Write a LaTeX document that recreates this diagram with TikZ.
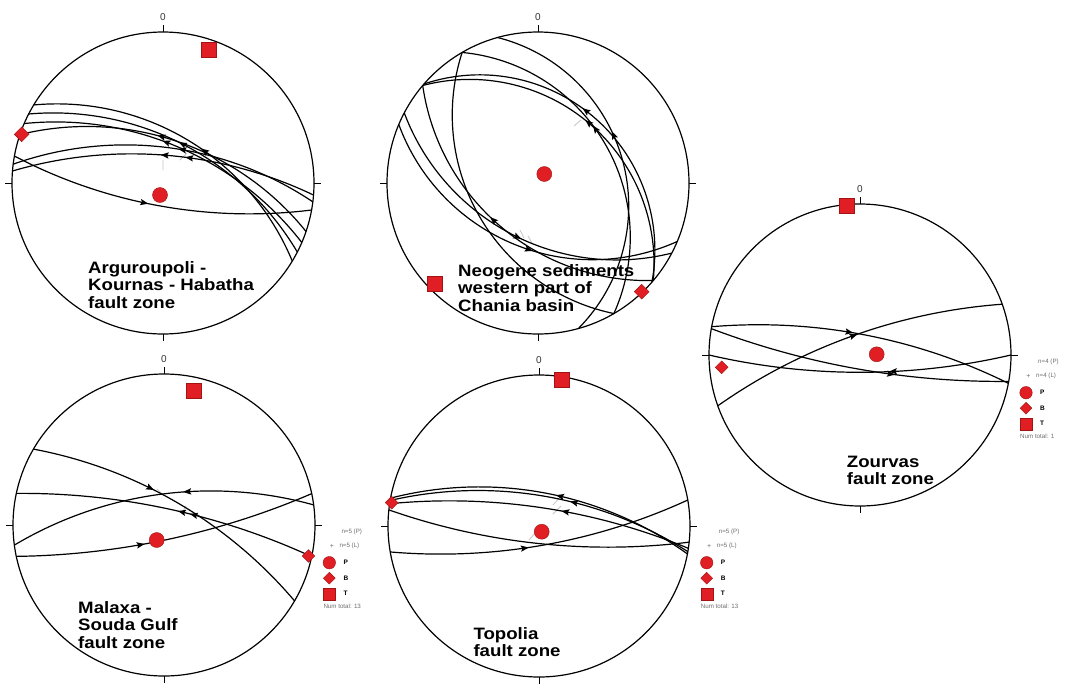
\documentclass[tikz,border=0pt]{standalone}
\usepackage{fontspec}
\setmainfont{Liberation Sans}
\usetikzlibrary{shapes.geometric,decorations.markings}
\definecolor{ptred}{RGB}{224,30,36}
\definecolor{ptedge}{RGB}{160,20,20}
\definecolor{lggray}{RGB}{110,110,110}
% great circle: [opts]{Ox}{Oy}{Ax}{Ay}{Px}{Py}; A = direction of one end, P = point on curve
\newcommand\gc[7][]{%
 \pgfmathsetmacro\gT{atan2((#5)-(#3),(#4)-(#2))}%
 \pgfmathsetmacro\gX{((#6)-(#2))/151}%
 \pgfmathsetmacro\gY{((#7)-(#3))/151}%
 \pgfmathsetmacro\gD{(\gX)*cos(\gT)+(\gY)*sin(\gT)}%
 \pgfmathsetmacro\gN{(\gY)*cos(\gT)-(\gX)*sin(\gT)}%
 \pgfmathsetmacro\gS{(1-(\gD)*(\gD)-(\gN)*(\gN))/(2*(\gN))}%
 \pgfmathsetmacro\gRho{151*sqrt(1+(\gS)*(\gS))}%
 \pgfmathsetmacro\gB{atan(\gS)}%
 \pgfmathsetmacro\gA{(\gT)+(\gB)}%
 \pgfmathsetmacro\gE{(\gN)>0 ? (\gT)+180-(\gB) : (\gT)-180-(\gB)}%
 \draw[gcl,#1] ([shift={(\gT:151)}]#2,#3) arc[start angle=\gA, end angle=\gE, radius=\gRho];%
}
\newcommand\stnet[3]{%
 \draw[prim] (#2,#3) circle[radius=151];
 \draw[tickl] (#2,#3-151) -- ++(0,-7) (#2,#3+151) -- ++(0,7) (#2-151,#3) -- ++(-7,0) (#2+151,#3) -- ++(7,0);
 \node[zero] (#1zero) at (#2,#3-166) {0};
}
\newcommand\lgd[5]{%
 \node[lgt] (#1n1) at (#2+12,#3-31) {n=#4 (P)};
 \node[lgplus] (#1plus) at (#2+2.5,#3-16) {+};
 \node[lgt] (#1n2) at (#2+10,#3-16.5) {n=#4 (L)};
 \node[pcirc, minimum size=12.5pt] (#1c) at (#2,#3) {};
 \node[lgb] (#1P) at (#2+14,#3) {P};
 \node[bdia, minimum size=12pt] (#1d) at (#2,#3+15.5) {};
 \node[lgb] (#1B) at (#2+14,#3+15.5) {B};
 \node[tsq, minimum size=12pt] (#1s) at (#2,#3+31) {};
 \node[lgb] (#1T) at (#2+14,#3+31) {T};
 \node[lgt] (#1tot) at (#2-6,#3+44) {Num total: #5};
}
\begin{document}
\begin{tikzpicture}[x=1pt,y=-1pt,
  prim/.style={line width=1.2pt},
  gcl/.style={line width=1.2pt},
  tickl/.style={line width=0.8pt},
  zero/.style={font=\fontsize{10}{10}\selectfont, text=black!80, inner sep=0pt},
  pcirc/.style={circle, fill=ptred, draw=ptedge, line width=0.4pt, minimum size=15pt, inner sep=0pt},
  tsq/.style={rectangle, fill=ptred, draw=ptedge, line width=0.4pt, minimum size=15pt, inner sep=0pt},
  bdia/.style={diamond, aspect=1, fill=ptred, draw=ptedge, line width=0.4pt, minimum size=15pt, inner sep=0pt},
  lbl/.style={font=\bfseries\fontsize{16.5}{17.5}\selectfont, align=left, anchor=north west, inner sep=0pt, xscale=1.13},
  lgt/.style={font=\fontsize{6.2}{6.2}\selectfont, text=lggray, anchor=west, inner sep=0pt},
  lgplus/.style={font=\fontsize{7}{7}\selectfont, text=lggray, inner sep=0pt},
  lgb/.style={font=\bfseries\fontsize{6.5}{6.5}\selectfont, anchor=west, inner sep=0pt},
  stria/.style={gray!45, line width=0.8pt},
  af/.style={postaction={decorate,decoration={markings,mark=at position #1 with {\fill (4.5,0)--(-3.5,3.2)--(-2,0)--(-3.5,-3.2)--cycle;}}}},
  ab/.style={postaction={decorate,decoration={markings,mark=at position #1 with {\fill (-4.5,0)--(3.5,3.2)--(2,0)--(3.5,-3.2)--cycle;}}}}]
\fill[white] (0,0) rectangle (1065,686);
\useasboundingbox (0,0) rectangle (1065,686);

% ---------- Net 1: Arguroupoli ----------
\draw[stria] (163,160) -- (163,170) (180,160) -- (187,153);
\stnet{A}{163}{183}
\gc[ab=0.56]{163}{183}{32.7}{104.3}{163}{127}
\gc[ab=0.50]{163}{183}{29.3}{114.3}{163}{135}
\gc[ab=0.46]{163}{183}{26}{124.3}{163}{141}
\gc[ab=0.45]{163}{183}{19.3}{134.3}{163}{137}
\gc[ab=0.55]{163}{183}{14.3}{164.3}{163}{147}
\gc[ab=0.50,ab=0.58]{163}{183}{12.7}{171}{163}{155}
\gc[af=0.45]{163}{183}{14.3}{156}{145}{203}
\node[tsq] (AT) at (208.3,50) {};
\node[bdia] (AB) at (21.7,134.3) {};
\node[pcirc] (AP) at (160,195) {};
\node[lbl] (Alab) at (88,261) {Arguroupoli -\\Kournas - Habatha\\fault zone};

% ---------- Net 2: Neogene ----------
\draw[stria] (574,126) -- (581,120) (520,230) -- (524,238) (528,236) -- (532,243);
\stnet{N}{538}{183}
\gc[ab=0.43]{538}{183}{498.3}{40}{626.7}{180}
\gc[ab=0.45]{538}{183}{461.7}{51.7}{606.7}{146.7}
\gc[ab=0.47]{538}{183}{423.3}{83.3}{593.3}{116.7}
\gc[ab=0.50]{538}{183}{423.3}{86}{540}{93.3}
\gc{538}{183}{461.7}{51.7}{457.3}{160}
\gc[ab=0.47]{538}{183}{423.3}{86}{493.3}{220}
\gc[af=0.52]{538}{183}{405}{113.3}{516.7}{236.7}
\gc[af=0.55]{538}{183}{400}{125}{524}{248}
\node[pcirc] (NP) at (544.3,174) {};
\node[tsq] (NT) at (435,283.3) {};
\node[bdia] (NB) at (641.7,291.7) {};
\node[lbl] (Nlab) at (458,264) {Neogene sediments\\western part of\\Chania basin};

% ---------- Net 3: Zourvas ----------
\stnet{Z}{860}{355}
\gc[af=0.45]{860}{355}{711.7}{326.7}{846.7}{331.7}
\gc[af=0.61]{860}{355}{711.7}{328.7}{890}{374}
\gc[ab=0.61]{860}{355}{708.3}{355}{860}{372.3}
\gc[af=0.50]{860}{355}{720}{405}{860}{333.3}
\node[tsq] (ZT) at (846.7,206) {};
\node[pcirc] (ZP) at (876.7,354.3) {};
\node[bdia, minimum size=13pt] (ZB) at (721.7,367.3) {};
\node[lbl] (Zlab) at (846.7,455.7) {Zourvas\\fault zone};
\lgd{Zl}{1026}{392.7}{4}{1}

% ---------- Net 4: Malaxa ----------
\draw[stria] (157,489) -- (162,494) (182,513) -- (186,506);
\stnet{M}{164}{525}
\gc[af=0.40]{164}{525}{35}{450}{186.7}{508.3}
\gc[ab=0.55,ab=0.59]{164}{525}{16.4}{493.4}{133.3}{502.3}
\gc[ab=0.59]{164}{525}{15}{545}{186.7}{491.7}
\gc[af=0.41]{164}{525}{18}{556}{150}{543}
\node[tsq] (MT) at (193.3,391) {};
\node[pcirc] (MP) at (156.7,540) {};
\node[bdia, minimum size=13pt] (MB) at (308.5,556) {};
\node[lbl] (Mlab) at (78,601) {Malaxa -\\Souda Gulf\\fault zone};
\lgd{Ml}{329.3}{562.7}{5}{13}

% ---------- Net 5: Topolia ----------
\draw[stria] (553,505) -- (561,496) (553,514) -- (561,506) (529,540) -- (536,532);
\stnet{T}{539}{526}
\gc[ab=0.55]{539}{526}{391.7}{498.3}{546.7}{493.3}
\gc[ab=0.60]{539}{526}{391.7}{500.7}{566.7}{500.7}
\gc[ab=0.58]{539}{526}{391.7}{504}{560}{510.7}
\gc{539}{526}{390}{510}{536.7}{543.3}
\gc[af=0.44]{539}{526}{391.7}{551.7}{523.3}{548.3}
\node[tsq] (TT) at (561.7,379.3) {};
\node[pcirc] (TP) at (541.7,531.7) {};
\node[bdia, minimum size=13pt] (TB) at (391.7,502.7) {};
\node[lbl] (Tlab) at (473.3,627.3) {Topolia\\fault zone};
\lgd{Tl}{706.7}{562.7}{5}{13}
\end{tikzpicture}
\end{document}
